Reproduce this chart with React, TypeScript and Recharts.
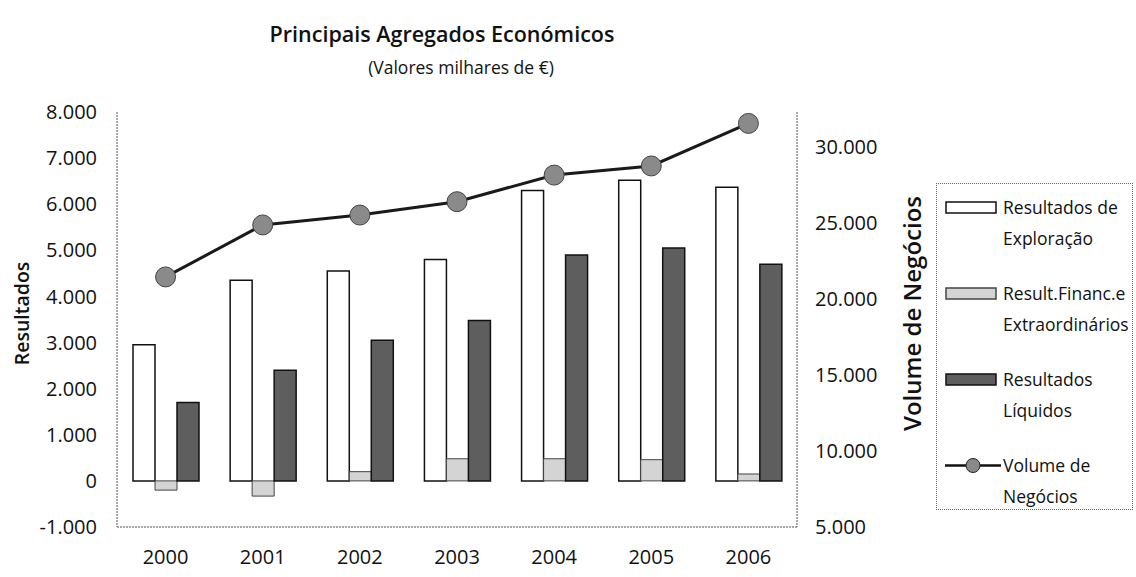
import { ComposedChart, Bar, Line, XAxis, YAxis, Legend, Label } from 'recharts';

const years = ['2000', '2001', '2002', '2003', '2004', '2005', '2006'];
const exploracao = [2950, 4350, 4550, 4800, 6300, 6520, 6370];
const financeiros = [-200, -330, 200, 480, 480, 460, 150];
const liquidos = [1700, 2400, 3050, 3480, 4900, 5050, 4700];
const volume = [21450, 24870, 25520, 26400, 28150, 28750, 31550];

const leftTicks = [-1000, 0, 1000, 2000, 3000, 4000, 5000, 6000, 7000, 8000];
const rightTicks = [5000, 10000, 15000, 20000, 25000, 30000];

const data = years.map((year, i) => ({
  year,
  exploracao: exploracao[i],
  financeiros: financeiros[i],
  liquidos: liquidos[i],
  volume: volume[i],
}));

const font = "'Open Sans', sans-serif";
const frame = { stroke: '#555', strokeDasharray: '2 1', strokeWidth: 1 };
const tickStyle = { fontFamily: font, fontSize: 20, fill: '#111' };

const fmt = (v: number) => (v < 0 ? '-' : '') + Math.abs(v).toLocaleString('de-DE');

const legendItems = [
  { lines: ['Resultados de', 'Exploração'], kind: 'bar', fill: '#fff', stroke: '#111' },
  { lines: ['Result.Financ.e', 'Extraordinários'], kind: 'bar', fill: '#d4d4d4', stroke: '#444' },
  { lines: ['Resultados', 'Líquidos'], kind: 'bar', fill: '#5e5e5e', stroke: '#111' },
  { lines: ['Volume de', 'Negócios'], kind: 'line', fill: '#8a8a8a', stroke: '#222' },
];

function LegendBox() {
  return (
    <div
      style={{
        width: 197,
        height: 327,
        boxSizing: 'border-box',
        border: '1px dotted #666',
        paddingTop: 8,
        fontFamily: font,
        fontSize: 17.5,
        color: '#111',
      }}
    >
      {legendItems.map((item, i) => (
        <div key={i} style={{ display: 'flex', marginBottom: 24, lineHeight: '31px' }}>
          <svg width={58} height={31} style={{ marginLeft: 8, flex: 'none' }}>
            {item.kind === 'bar' ? (
              <rect x={1} y={10} width={50} height={11} fill={item.fill} stroke={item.stroke} strokeWidth={1.5} />
            ) : (
              <g>
                <line x1={0} y1={15.5} x2={56} y2={15.5} stroke="#111" strokeWidth={2.5} />
                <circle cx={28} cy={15.5} r={7} fill={item.fill} stroke={item.stroke} strokeWidth={1} />
              </g>
            )}
          </svg>
          <div>
            {item.lines.map((l) => (
              <div key={l}>{l}</div>
            ))}
          </div>
        </div>
      ))}
    </div>
  );
}

function AxisTitle({ viewBox, text, dx, size }: any) {
  const x = viewBox.x + dx;
  const y = viewBox.y + viewBox.height / 2 - 6;
  return (
    <text
      x={x}
      y={y}
      transform={`rotate(-90 ${x} ${y})`}
      textAnchor="middle"
      dominantBaseline="central"
      fontFamily={font}
      fontSize={size}
      fontWeight={600}
      fill="#111"
    >
      {text}
    </text>
  );
}

export default function App() {
  return (
    <div style={{ position: 'absolute', left: 0, top: 0, width: 1136, height: 577, background: '#fff' }}>
      <div style={{ position: 'absolute', left: 0, width: 884, top: 20, lineHeight: '28px', textAlign: 'center', fontFamily: font, fontSize: 21.5, fontWeight: 600, color: '#111' }}>
        Principais Agregados Económicos
      </div>
      <div style={{ position: 'absolute', left: 0, width: 922, top: 55, lineHeight: '24px', textAlign: 'center', fontFamily: font, fontSize: 17.5, color: '#111' }}>
        (Valores milhares de €)
      </div>
      <ComposedChart
        width={1136}
        height={577}
        data={data}
        margin={{ top: 112, right: 239, bottom: 0, left: 0 }}
        barGap={0}
      >
        <XAxis
          dataKey="year"
          height={50}
          tickLine={false}
          tickSize={0}
          tickMargin={23}
          tick={tickStyle}
          axisLine={frame}
        />
        <XAxis xAxisId="top" orientation="top" dataKey="year" height={0} tick={false} tickLine={false} axisLine={frame} />
        <YAxis
          yAxisId="left"
          width={117}
          domain={[-1000, 8000]}
          ticks={leftTicks}
          interval={0}
          tickFormatter={fmt}
          tickLine={false}
          tickSize={0}
          tickMargin={20}
          tick={tickStyle}
          axisLine={frame}
        >
          <Label content={(p: any) => <AxisTitle viewBox={p.viewBox} text="Resultados" dx={21} size={19.5} />} />
        </YAxis>
        <YAxis
          yAxisId="right"
          orientation="right"
          width={100}
          domain={[5000, 32300]}
          ticks={rightTicks}
          interval={0}
          tickFormatter={fmt}
          tickLine={false}
          tickSize={0}
          tickMargin={18}
          tick={tickStyle}
          axisLine={frame}
        >
          <Label content={(p: any) => <AxisTitle viewBox={p.viewBox} text="Volume de Negócios" dx={114} size={24} />} />
        </YAxis>
        <Legend
          layout="horizontal"
          verticalAlign="middle"
          align="center"
          wrapperStyle={{ left: 936, top: 183, width: 197, height: 327 }}
          content={() => <LegendBox />}
        />
        <Bar yAxisId="left" dataKey="exploracao" name="Resultados de Exploração" barSize={22} fill="#fff" stroke="#111" strokeWidth={1.5} isAnimationActive={false} />
        <Bar yAxisId="left" dataKey="financeiros" name="Result.Financ.e Extraordinários" barSize={22} fill="#d4d4d4" stroke="#444" strokeWidth={1} isAnimationActive={false} />
        <Bar yAxisId="left" dataKey="liquidos" name="Resultados Líquidos" barSize={22} fill="#5e5e5e" stroke="#111" strokeWidth={1.5} isAnimationActive={false} />
        <Line
          yAxisId="right"
          dataKey="volume"
          name="Volume de Negócios"
          stroke="#1a1a1a"
          strokeWidth={3}
          dot={{ r: 10, fill: '#8a8a8a', stroke: '#444', strokeWidth: 1 }}
          isAnimationActive={false}
        />
      </ComposedChart>
    </div>
  );
}
